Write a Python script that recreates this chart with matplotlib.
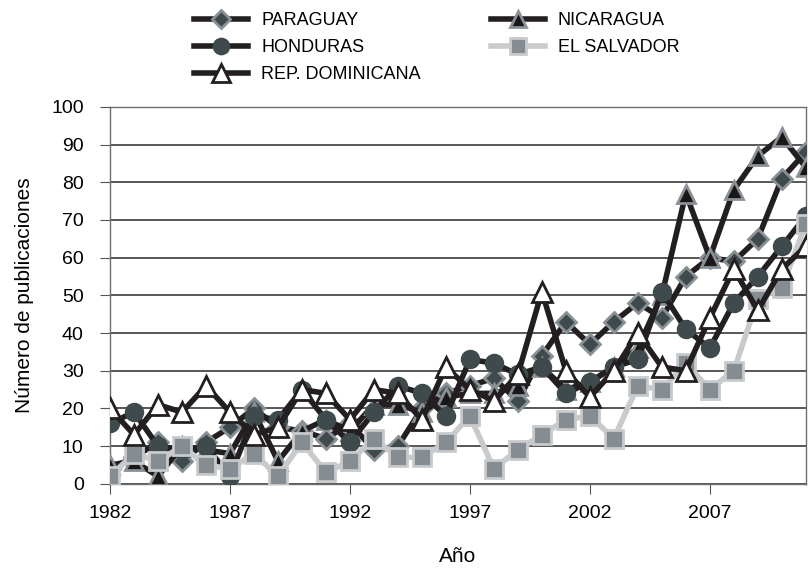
import matplotlib
matplotlib.use("Agg")
import matplotlib.pyplot as plt

plt.rcParams['font.family'] = ['Liberation Sans', 'DejaVu Sans']

years = list(range(1982, 2012))
paraguay = [4, 7, 11, 6, 11, 15, 20, 15, 14, 12, 16, 9, 10, 20, 24, 26, 28, 22, 34, 43,
            37, 43, 48, 44, 55, 60, 59, 65, 81, 88]
nicaragua = [5, 6, 2, 10, 9, 8, 19, 6, 14, 17, 14, 21, 21, 19, 23, 24, 24, 26, 31, 25,
             27, 31, 36, 50, 77, 60, 78, 87, 92, 84]
honduras = [16, 19, 10, 9, 10, 2, 18, 17, 25, 17, 11, 19, 26, 24, 18, 33, 32, 29, 31, 24,
            27, 31, 33, 51, 41, 36, 48, 55, 63, 71]
el_salvador = [2, 8, 6, 10, 5, 4, 8, 2, 11, 3, 6, 12, 7, 7, 11, 18, 4, 9, 13, 17,
               18, 12, 26, 25, 32, 25, 30, 49, 52, 69]
rep_dom = [20, 13, 21, 19, 26, 19, 13, 15, 25, 24, 17, 25, 24, 17, 31, 25, 22, 29, 51, 30,
           23, 30, 40, 31, 30, 44, 57, 46, 57, 63]

xticks = [1982, 1987, 1992, 1997, 2002, 2007]

fig = plt.figure(figsize=(8.09, 5.78), dpi=100)
ax = fig.add_axes([0.136, 0.163, 0.860, 0.652])

dark = '#231f20'
lines = {}
lines['PARAGUAY'] = ax.plot(years, paraguay, color=dark, lw=4, marker='D', ms=10,
                            mfc='#3e4a4b', mec='#8a9196', mew=2, zorder=3)[0]
lines['NICARAGUA'] = ax.plot(years, nicaragua, color=dark, lw=4, marker='^', ms=13,
                             mfc='#1a1718', mec='#8a9196', mew=2, zorder=4)[0]
lines['HONDURAS'] = ax.plot(years, honduras, color=dark, lw=4, marker='o', ms=13,
                            mfc='#3e4a4b', mec='#3e4a4b', mew=1, zorder=5)[0]
lines['EL SALVADOR'] = ax.plot(years, el_salvador, color='#c8cacc', lw=4, marker='s', ms=13,
                               mfc='#858c92', mec='#c8cacc', mew=2, zorder=6)[0]
lines['REP. DOMINICANA'] = ax.plot(years, rep_dom, color=dark, lw=4, marker='^', ms=14,
                                   mfc='white', mec=dark, mew=2, zorder=7)[0]

ax.set_xlim(1982, 2011)
ax.set_ylim(0, 100)
ax.set_xticks(xticks)
ax.set_yticks(range(0, 101, 10))
ax.tick_params(axis='both', labelsize=14, length=7, color='#555555')
ax.tick_params(axis='x', pad=8)
ax.tick_params(axis='y', pad=12)
ax.grid(axis='y', color='#3a3a3a', lw=1.2)
ax.set_axisbelow(True)
for s in ax.spines.values():
    s.set_color('#6d6d6d')
    s.set_linewidth(1)

ax.set_ylabel('Número de publicaciones', fontsize=15, labelpad=12)
ax.set_xlabel('Año', fontsize=15, labelpad=18)

order = ['PARAGUAY', 'HONDURAS', 'REP. DOMINICANA', 'NICARAGUA', 'EL SALVADOR']
fig.legend([lines[k] for k in order], order, ncol=2, loc='upper left',
           bbox_to_anchor=(0.220, 1.007), frameon=False, fontsize=13,
           handlelength=3.0, handletextpad=0.7, columnspacing=3.9,
           labelspacing=0.55, markerscale=0.9)

fig.savefig('out.png', dpi=100)
